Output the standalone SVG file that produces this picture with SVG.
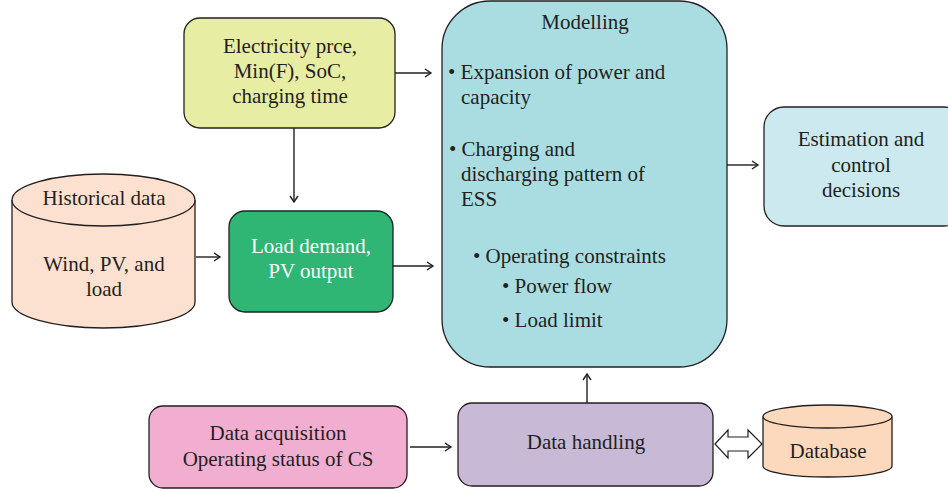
<svg xmlns="http://www.w3.org/2000/svg" width="948" height="492" viewBox="0 0 948 492">
<defs>
<marker id="arr" markerWidth="10" markerHeight="10" refX="8" refY="5" orient="auto" markerUnits="userSpaceOnUse">
<path d="M2,1 L8,5 L2,9" fill="none" stroke="#231f20" stroke-width="1.4"/>
</marker>
</defs>
<style>
.box{stroke:#231f20;stroke-width:1.3}
.t{font-family:"Liberation Serif","Times New Roman",serif;font-size:21px;fill:#231f20}
.c{text-anchor:middle}
.w{fill:#ffffff}
.ln{stroke:#231f20;stroke-width:1.4;fill:none;marker-end:url(#arr)}
</style>
<rect width="948" height="492" fill="#ffffff"/>
<g id="electricity">
<rect class="box" x="184" y="18" width="211" height="110" rx="16" fill="#e8eda4"/>
<text class="t c" x="290" y="53">Electricity prce,</text>
<text class="t c" x="290" y="78">Min(F), SoC,</text>
<text class="t c" x="290" y="103">charging time</text>
</g>
<g id="historical">
<path class="box" d="M12,200 L12,302 A91.5,26 0 0 0 195,302 L195,200" fill="#fde1d0"/>
<ellipse class="box" cx="103.5" cy="200" rx="91.5" ry="26" fill="#fde1d0"/>
<text class="t c" x="104" y="205">Historical data</text>
<text class="t c" x="104" y="271">Wind, PV, and</text>
<text class="t c" x="104" y="296">load</text>
</g>
<g id="load">
<rect class="box" x="229" y="211" width="164" height="101" rx="16" fill="#2fb574"/>
<text class="t c w" x="311" y="253">Load demand,</text>
<text class="t c w" x="311" y="278">PV output</text>
</g>
<g id="modelling">
<rect class="box" x="442" y="1" width="285" height="366" rx="48" fill="#a9dde2"/>
<text class="t c" x="585" y="29">Modelling</text>
<text class="t" x="448" y="79">• Expansion of power and</text>
<text class="t" x="461" y="104">capacity</text>
<text class="t" x="449" y="156">• Charging and</text>
<text class="t" x="461" y="181">discharging pattern of</text>
<text class="t" x="461" y="206">ESS</text>
<text class="t" x="473" y="263">• Operating constraints</text>
<text class="t" x="502" y="293">• Power flow</text>
<text class="t" x="502" y="327">• Load limit</text>
</g>
<g id="estimation">
<rect class="box" x="764" y="107" width="200" height="119" rx="20" fill="#cbe9ee"/>
<text class="t c" x="861" y="146">Estimation and</text>
<text class="t c" x="861" y="172">control</text>
<text class="t c" x="861" y="197">decisions</text>
</g>
<g id="acquisition">
<rect class="box" x="149" y="406" width="258" height="82" rx="14" fill="#f2aed0"/>
<text class="t c" x="278" y="440">Data acquisition</text>
<text class="t c" x="278" y="466">Operating status of CS</text>
</g>
<g id="handling">
<rect class="box" x="458" y="403" width="255" height="83" rx="14" fill="#c8b9d6"/>
<text class="t c" x="586" y="449">Data handling</text>
</g>
<g id="database">
<path class="box" d="M763,416.5 L763,466 A64.5,11 0 0 0 892,466 L892,416.5" fill="#fcd9bd"/>
<ellipse class="box" cx="827.5" cy="416.5" rx="64.5" ry="11.5" fill="#fcd9bd"/>
<text class="t c" x="828" y="458">Database</text>
</g>
<g id="connectors">
<line class="ln" x1="395" y1="73" x2="431" y2="73"/>
<line class="ln" x1="294" y1="128" x2="294" y2="202"/>
<line class="ln" x1="196" y1="257" x2="220" y2="257"/>
<line class="ln" x1="393" y1="266" x2="433" y2="266"/>
<line class="ln" x1="727" y1="165" x2="758" y2="165"/>
<line class="ln" x1="410" y1="447" x2="451" y2="447"/>
<line class="ln" x1="587" y1="403" x2="587" y2="374"/>
<path d="M715,444 L728,430 L728,437 L748,437 L748,430 L762,444 L748,458 L748,451 L728,451 L728,458 Z" fill="#ffffff" stroke="#231f20" stroke-width="1.2"/>
</g>
</svg>
